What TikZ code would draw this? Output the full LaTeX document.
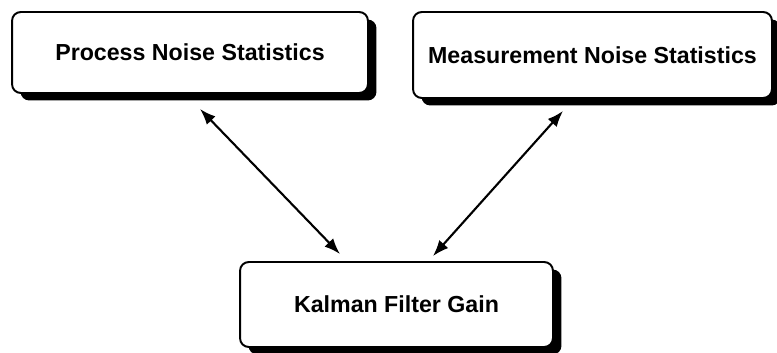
\documentclass[tikz,border=0pt]{standalone}
\usepackage{fontspec}
\setmainfont{Liberation Sans}
\usetikzlibrary{arrows.meta,shadows}
\begin{document}
\begin{tikzpicture}[x=0.02cm, y=-0.02cm,
    block/.style={draw, line width=1.1pt, rounded corners=5pt, fill=white,
      font=\fontsize{13.2}{16}\selectfont\bfseries,
      drop shadow={shadow xshift=0.17cm, shadow yshift=-0.15cm, fill=black, opacity=1}},
    link/.style={{Latex[length=3.2mm,width=2.4mm]}-{Latex[length=3.2mm,width=2.4mm]}, line width=1.2pt}]
  \useasboundingbox (0,0) rectangle (777,352);
  \node[block, minimum width=7.12cm, minimum height=1.62cm] (proc) at (190,52.5) {Process Noise Statistics};
  \node[block, minimum width=7.18cm, minimum height=1.72cm] (meas) at (592.5,55) {Measurement Noise Statistics};
  \node[block, minimum width=6.26cm, minimum height=1.7cm] (gain) at (396.5,304.5) {Kalman Filter Gain};
  \draw[link] ([xshift=0.2cm,yshift=-0.3cm]proc.south) -- ([xshift=-1.13cm,yshift=0.14cm]gain.north);
  \draw[link] ([xshift=-0.59cm,yshift=-0.24cm]meas.south) -- ([xshift=0.73cm,yshift=0.1cm]gain.north);
\end{tikzpicture}
\end{document}
